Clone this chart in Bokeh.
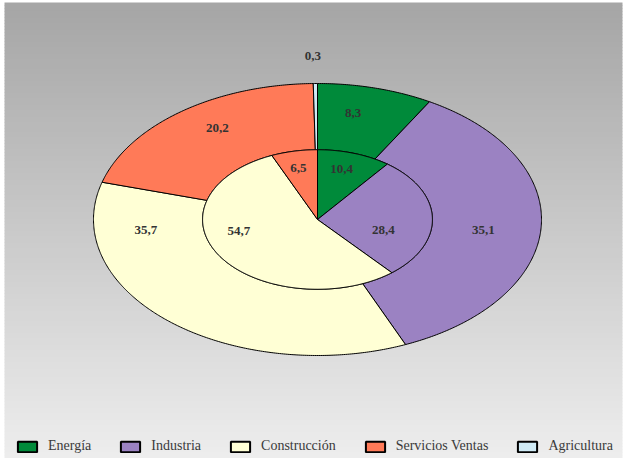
import numpy as np
from bokeh.plotting import figure
from bokeh.models import Range1d, ColumnDataSource, Legend, LegendItem
from bokeh.core.properties import value
from bokeh.embed import file_html
from bokeh.resources import INLINE

# --- data -------------------------------------------------------------
categories = ["Energía", "Industria", "Construcción", "Servicios Ventas", "Agricultura"]
outer_values = [8.3, 35.1, 35.7, 20.2, 0.3]   # outer ring
inner_values = [10.4, 28.4, 54.7, 6.5, 0.0]   # inner pie
colors = ["#008a3a", "#9b82c2", "#ffffd5", "#ff7a58", "#cfeaf5"]

# label placement: (angle in degrees clockwise from top, radius as fraction of outer radius)
outer_label_pos = [(11.5, 0.80), (96.0, 0.745), (264.0, 0.77), (326.5, 0.81), (-1.0, 1.20)]
inner_label_pos = [(16.0, 0.39), (105.0, 0.305), (257.0, 0.36), (-12.8, 0.385), None]

INNER_R = 0.513
W, H = 625, 458
CX, CY, RX, RY = 317, 219, 224, 136      # pie centre and radii on the page, px
FONT = "Liberation Serif"


def ring_slices(values, r0, r1):
    """Polygons for pie / ring slices, angles clockwise from 12 o'clock."""
    total = float(sum(values))
    edges = np.concatenate([[0.0], np.cumsum(values)]) / total * 2 * np.pi
    xs, ys, fills = [], [], []
    for i, v in enumerate(values):
        if v <= 0:
            continue
        a0, a1 = edges[i], edges[i + 1]
        n = max(2, int(np.degrees(a1 - a0) * 2) + 2)
        t = np.linspace(a0, a1, n)
        ox, oy = r1 * np.sin(t), r1 * np.cos(t)
        if r0 > 0:
            ix, iy = r0 * np.sin(t[::-1]), r0 * np.cos(t[::-1])
        else:
            ix, iy = np.array([0.0]), np.array([0.0])
        xs.append(np.concatenate([ox, ix]).tolist())
        ys.append(np.concatenate([oy, iy]).tolist())
        fills.append(colors[i])
    return dict(xs=xs, ys=ys, fill=fills)


def px_to_x(px):
    return (px - CX) / RX


def py_to_y(py):
    return (CY - py) / RY


p = figure(width=W, height=H, output_backend="svg", toolbar_location=None,
           x_range=Range1d(px_to_x(0), px_to_x(W)),
           y_range=Range1d(py_to_y(H), py_to_y(0)),
           x_axis_location=None, y_axis_location=None,
           min_border=0, background_fill_color="white", border_fill_color="white")
p.grid.visible = False
p.outline_line_color = None

# vertical grey gradient panel
rows = np.arange(2, 456, 3)
levels = 166 + (238 - 166) * (rows - 2) / (454.0)
grad_cols = ["#%02x%02x%02x" % (int(g), int(g), int(g)) for g in levels]
p.quad(left=px_to_x(4), right=px_to_x(622),
       top=[py_to_y(r) for r in rows], bottom=[py_to_y(r + 3.4) for r in rows],
       fill_color=grad_cols, line_color=None)

# outer ring and inner pie
outer_src = ColumnDataSource(ring_slices(outer_values, INNER_R, 1.0))
inner_src = ColumnDataSource(ring_slices(inner_values, 0.0, INNER_R))
p.patches("xs", "ys", source=outer_src, fill_color="fill", line_color="black", line_width=1)
p.patches("xs", "ys", source=inner_src, fill_color="fill", line_color="black", line_width=1)


def label_source(values, positions):
    lx, ly, txt = [], [], []
    for v, pos in zip(values, positions):
        if pos is None or v <= 0:
            continue
        ang, r = np.radians(pos[0]), pos[1]
        lx.append(r * np.sin(ang))
        ly.append(r * np.cos(ang))
        txt.append(f"{v:.1f}".replace(".", ","))
    return ColumnDataSource(dict(x=lx, y=ly, text=txt))


for src in (label_source(outer_values, outer_label_pos), label_source(inner_values, inner_label_pos)):
    p.text("x", "y", text="text", source=src, text_font=value(FONT), text_font_style="bold",
           text_font_size="13px", text_color="#333333", text_align="center", text_baseline="middle")

# legend swatches (glyphs kept outside the visible range; only their legend entries show)
items = []
for name, c in zip(categories, colors):
    r = p.quad(left=[50], right=[51], top=[51], bottom=[50],
               fill_color=c, line_color="black", line_width=2)
    items.append(LegendItem(label=name, renderers=[r]))

legend = Legend(items=items, orientation="horizontal", location=(13, 2),
                glyph_width=24, glyph_height=13, label_standoff=9, spacing=27,
                padding=2, margin=0, background_fill_alpha=0, border_line_alpha=0,
                label_text_font=FONT, label_text_font_size="14px", label_text_color="#3a3a3a")
p.add_layout(legend)

open("out.html", "w").write(file_html(p, INLINE))
